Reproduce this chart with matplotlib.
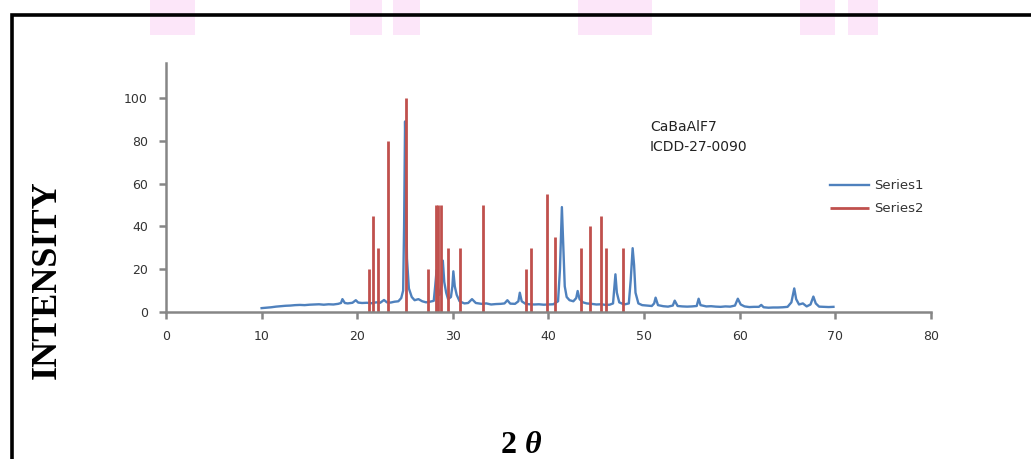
import matplotlib.pyplot as plt
from matplotlib.lines import Line2D
from matplotlib.patches import Rectangle

two_theta = [10.0, 10.5, 11.0, 11.5, 12.0, 12.5, 13.0, 13.5, 14.0, 14.5, 15.0, 15.5,
             16.0, 16.5, 17.0, 17.5, 18.0, 18.3, 18.45, 18.7, 19.0, 19.5, 19.85, 20.1,
             20.5, 21.0, 21.5, 22.0, 22.4, 22.8, 23.1, 23.5, 23.9, 24.3, 24.6, 24.8,
             24.9, 25.0, 25.1, 25.2, 25.4, 25.7, 26.0, 26.4, 26.8, 27.2, 27.6, 28.0,
             28.15, 28.3, 28.45, 28.6, 28.8, 28.95, 29.1, 29.3, 29.5, 29.8, 29.95, 30.05,
             30.2, 30.4, 30.7, 31.2, 31.6, 32.0, 32.4, 33.0, 33.5, 34.0, 34.5, 35.0,
             35.4, 35.7, 36.0, 36.5, 36.85, 37.0, 37.2, 37.6, 38.0, 38.5, 39.0, 39.5,
             40.0, 40.5, 41.0, 41.2, 41.4, 41.55, 41.7, 41.9, 42.2, 42.6, 42.9, 43.05,
             43.25, 43.6, 44.0, 44.5, 45.0, 45.5, 46.0, 46.4, 46.75, 46.9, 47.0, 47.15,
             47.4, 47.9, 48.4, 48.6, 48.8, 48.95, 49.1, 49.4, 49.8, 50.3, 50.8, 51.05,
             51.2, 51.45, 52.0, 52.5, 53.0, 53.2, 53.5, 54.0, 54.5, 55.0, 55.5, 55.7,
             55.9, 56.5, 57.0, 57.5, 58.0, 58.5, 59.0, 59.5, 59.8, 60.1, 60.5, 61.0,
             61.5, 62.0, 62.25, 62.5, 63.0, 63.5, 64.0, 64.5, 65.0, 65.4, 65.7, 65.9,
             66.2, 66.6, 67.0, 67.4, 67.7, 67.95, 68.3, 68.8, 69.3, 69.8]
counts = [1.8, 2.0, 2.2, 2.5, 2.7, 2.9, 3.0, 3.2, 3.3, 3.2, 3.4, 3.5,
          3.6, 3.4, 3.6, 3.5, 3.8, 4.2, 6.0, 4.2, 4.0, 4.3, 5.5, 4.4,
          4.2, 4.3, 4.1, 4.5, 4.3, 5.6, 4.5, 4.4, 4.8, 5.0, 6.5, 10.0,
          40.0, 89.0, 60.0, 25.0, 11.0, 7.0, 5.5, 6.0, 5.0, 4.5, 4.8, 5.2,
          12.0, 19.5, 10.0, 8.0, 12.0, 24.0, 14.0, 9.0, 6.0, 7.0, 12.0, 19.0,
          12.0, 8.0, 5.0, 4.0, 4.2, 6.0, 4.2, 3.8, 4.0, 3.5, 3.7, 3.8,
          4.0, 5.5, 3.9, 3.8, 5.0, 9.0, 5.0, 3.8, 3.6, 3.5, 3.6, 3.4,
          3.5, 3.6, 5.0, 20.0, 49.0, 30.0, 12.0, 7.0, 5.5, 5.0, 6.5, 9.8,
          6.0, 4.5, 4.0, 3.8, 3.5, 3.6, 3.3, 3.4, 4.0, 12.0, 17.6, 9.0,
          4.5, 3.5, 4.0, 15.0, 29.8, 22.0, 9.0, 4.0, 3.2, 3.0, 2.8, 4.0,
          6.7, 3.2, 2.7, 2.5, 3.0, 5.3, 2.8, 2.6, 2.5, 2.6, 2.8, 6.2,
          3.2, 2.6, 2.7, 2.5, 2.4, 2.6, 2.5, 3.0, 6.2, 3.5, 2.6, 2.3,
          2.4, 2.4, 3.3, 2.2, 2.0, 2.1, 2.1, 2.2, 2.4, 4.5, 11.0, 6.0,
          3.5, 4.0, 2.6, 3.5, 7.2, 4.0, 2.5, 2.4, 2.3, 2.4]

# Series2: ICDD 27-0090 reference lines
ref_pos = [21.26, 21.68, 22.14, 23.25, 25.15, 27.35, 28.2, 28.4, 28.8, 29.5,
           30.7, 33.2, 37.65, 38.2, 39.85, 40.7, 43.4, 44.3, 45.46, 46.05, 47.8]
ref_int = [20, 45, 30, 80, 100, 20, 50, 50, 50, 30,
           30, 50, 20, 30, 55, 35, 30, 40, 45, 30, 30]

# faint watermark remnants at the top edge (left px, width px)
wm_left = [150, 350, 393, 578, 800, 848]
wm_width = [45, 32, 27, 74, 35, 30]

fig = plt.figure(figsize=(10.31, 4.59), dpi=100)

for px, w in zip(wm_left, wm_width):
    fig.patches.append(Rectangle((px / 1031, 1 - 35 / 459), w / 1031, 35 / 459,
                                 transform=fig.transFigure, facecolor='#FCE6F9',
                                 edgecolor='none', zorder=0))

ax = fig.add_axes([0.161, 0.3203, 0.742, 0.5424])
ax.patch.set_alpha(0)

ax.plot(two_theta, counts, color='#4F81BD', lw=1.7, label='Series1')
ax.vlines(ref_pos, 0, ref_int, color='#C0504D', lw=2.0, label='Series2')

ax.set_xlim(0, 80)
ax.set_ylim(0, 116.3)
ax.set_xticks(range(0, 81, 10))
ax.set_yticks(range(0, 101, 20))

for side in ['top', 'right']:
    ax.spines[side].set_visible(False)
for side in ['left', 'bottom']:
    ax.spines[side].set_color('#868686')
    ax.spines[side].set_linewidth(1.8)
ax.tick_params(axis='both', colors='#868686', width=1.8, length=5,
               labelsize=9, labelcolor='#333333', pad=8)

ax.text(50.6, 81.8, 'CaBaAlF7\nICDD-27-0090', fontsize=10, color='#222222',
        va='center', ha='left', linespacing=1.6)

leg = ax.legend(loc='upper left', bbox_to_anchor=(0.852, 0.58), frameon=False,
                fontsize=9.5, handlelength=3.0, handletextpad=0.4, labelspacing=0.75)
for t in leg.get_texts():
    t.set_color('#333333')

fig.text(0.046, 0.39, 'INTENSITY', rotation=90, family='Liberation Serif',
         fontweight='bold', fontsize=26, ha='center', va='center')
fig.text(0.509, 0.014, '2 ', family='Liberation Serif', fontweight='bold',
         fontsize=23, ha='right', va='baseline')
fig.text(0.509, 0.014, 'θ', family='Liberation Serif',
         fontweight='bold', style='italic', fontsize=23, ha='left', va='baseline')

# outer frame (runs off right and bottom edges)
x0 = 12 / 1031
y0 = 1 - 14.5 / 459
fig.add_artist(Line2D([x0, x0, 1.0], [0.0, y0, y0], transform=fig.transFigure,
                      color='black', lw=2.6, solid_joinstyle='miter'))

fig.savefig('out.png', dpi=100)
